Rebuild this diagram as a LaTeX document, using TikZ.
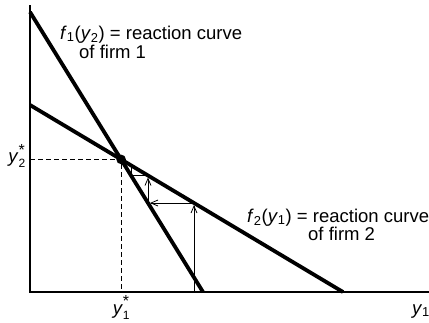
\documentclass[tikz,border=0pt]{standalone}
\usepackage{fontspec}
\setmainfont{Liberation Sans}
\usetikzlibrary{arrows.meta}
\newcommand{\vi}[1]{\textit{#1}}
\newcommand{\ystar}[1]{\vi{y}\makebox[0pt][l]{\raisebox{-0.28em}{\fontsize{12}{12}\selectfont #1}}\raisebox{0.42em}{\fontsize{16}{16}\selectfont *}}
\begin{document}
\begin{tikzpicture}[x=1pt,y=-1pt,
  axis/.style={line width=1.6pt},
  curve/.style={line width=3.8pt},
  guide/.style={line width=0.8pt, dash pattern=on 5pt off 3pt},
  cob/.style={line width=0.8pt},
  cobarrow/.style={cob, -{Straight Barb[length=7pt,width=6pt]}, shorten >=2pt},
  lbl/.style={inner sep=0pt, font=\fontsize{18.5}{21}\selectfont}
]
\useasboundingbox (0,0) rectangle (429,322);
% axes
\coordinate (ytop) at (30,5);
\coordinate (O) at (30,292);
\coordinate (xend) at (429,292);
\draw[axis] (ytop) -- (O) -- (xend);
% reaction curves
\coordinate (a1) at (30,12);
\coordinate (b1) at (203,292);
\coordinate (a2) at (30,105);
\coordinate (b2) at (343,292);
\draw[curve] (a1) -- (b1);
\draw[curve] (a2) -- (b2);
% equilibrium
\coordinate (E) at (121.1,159.4);
\coordinate (Ey) at (30,159.4);
\coordinate (Ex) at (121.1,292);
\draw[guide] (Ey) -- (E) -- (Ex);
\fill (E) circle (4.8);
% cobweb
\coordinate (p0) at (194,292);
\coordinate (p1) at (194,203);
\coordinate (p2) at (148,203);
\coordinate (p3) at (148,175.5);
\coordinate (p4) at (131,175.5);
\coordinate (p5) at (131,165.3);
\draw[cobarrow] (p0) -- (p1);
\draw[cobarrow] (p1) -- (p2);
\draw[cobarrow] (p2) -- (p3);
\draw[cob] (p3) -- (p4) -- (p5);
% labels
\node[lbl, anchor=base west] (l1a) at (60,39) {\vi{f}\textsubscript{1}(\vi{y}\textsubscript{2}) = reaction curve};
\node[lbl, anchor=base west] (l1b) at (79,58) {of firm 1};
\node[lbl, anchor=base west] (l2a) at (247,222) {\vi{f}\textsubscript{2}(\vi{y}\textsubscript{1}) = reaction curve};
\node[lbl, anchor=base west] (l2b) at (308,240) {of firm 2};
\node[lbl, anchor=east] (ly2) at (25,156) {\ystar{2}};
\node[lbl, anchor=base] (ly1) at (121,314) {\ystar{1}};
\node[lbl, anchor=base] (lx) at (421,314) {\vi{y}\textsubscript{1}};
\end{tikzpicture}
\end{document}
